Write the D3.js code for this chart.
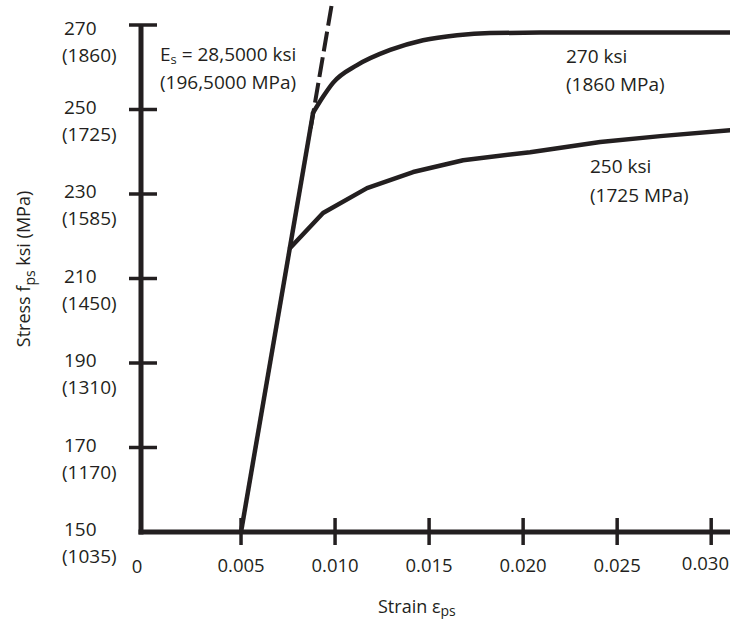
<!DOCTYPE html>
<html>
<head>
<meta charset="utf-8">
<title>stress strain</title>
<script src="https://d3js.org/d3.v7.min.js"></script>
<style>
  body { margin: 0; background: #fff; }
  text { font-family: "Open Sans", sans-serif; fill: #231f20; }
</style>
</head>
<body>
<svg id="mainsvg" width="730" height="619"></svg>
<script>
// ticks
const strainTicks = [0.005, 0.010, 0.015, 0.020, 0.025, 0.030];
const stressTicks = [150, 170, 190, 210, 230, 250, 270];
const stressMPa = ['(1035)', '(1170)', '(1310)', '(1450)', '(1585)', '(1725)', '(1860)'];

// curves: [strain, stress ksi]
const elastic = [[0.005, 150], [0.00883, 249.2]];
const modulusLine = [[0.00981, 274.5], [0.00868, 245]];
const curve270 = [[0.00883, 249.2], [0.00936, 253.0], [0.00989, 256.3], [0.01117, 260.5],
  [0.01293, 264.1], [0.01468, 266.4], [0.01649, 267.6], [0.01824, 268.1], [0.0209, 268.2], [0.031, 268.2]];
const curve250 = [[0.00761, 217.2], [0.00936, 225.5], [0.0117, 231.4], [0.01415, 235.2],
  [0.01681, 238.0], [0.02037, 239.9], [0.0241, 242.3], [0.02729, 243.7], [0.031, 245.1]];

const ink = '#231f20';
const svg = d3.select('#mainsvg');

const x = d3.scaleLinear().domain([0, 0.031]).range([147, 730]);
const y = d3.scaleLinear().domain([150, 270]).range([532, 25]);
const axisX = 141;

// y axis
svg.append('line')
  .attr('x1', axisX).attr('x2', axisX)
  .attr('y1', y(270)).attr('y2', y(150) + 2.5)
  .attr('stroke', ink).attr('stroke-width', 5);

svg.selectAll('.ytick').data(stressTicks.filter(d => d > 150)).join('line')
  .attr('class', 'ytick')
  .attr('x1', axisX - 12).attr('x2', axisX + 16)
  .attr('y1', d => y(d)).attr('y2', d => y(d))
  .attr('stroke', ink).attr('stroke-width', 3.5);

const ylab = svg.selectAll('.ylab').data(stressTicks).join('text')
  .attr('class', 'ylab')
  .attr('font-size', 19);
ylab.append('tspan')
  .attr('x', 64)
  .attr('y', d => y(d) + (d === 270 ? 10 : 4))
  .text(d => d);
ylab.append('tspan')
  .attr('x', 62)
  .attr('y', d => y(d) + (d === 270 ? 37 : 31))
  .text((d, i) => stressMPa[i]);

// x axis
svg.append('line')
  .attr('x1', axisX - 2.5).attr('x2', 730)
  .attr('y1', y(150)).attr('y2', y(150))
  .attr('stroke', ink).attr('stroke-width', 5);

svg.selectAll('.xtick').data(strainTicks).join('line')
  .attr('class', 'xtick')
  .attr('x1', d => x(d)).attr('x2', d => x(d))
  .attr('y1', y(150) - 14).attr('y2', y(150) + 13)
  .attr('stroke', ink).attr('stroke-width', 3.5);

// last label sits against the right edge, as in the source
svg.selectAll('.xlab').data(strainTicks).join('text')
  .attr('class', 'xlab')
  .attr('x', (d, i) => i === strainTicks.length - 1 ? 729 : x(d))
  .attr('y', (d, i) => i === strainTicks.length - 1 ? 570 : 572)
  .attr('text-anchor', (d, i) => i === strainTicks.length - 1 ? 'end' : 'middle')
  .attr('font-size', 18.5)
  .text(d => d.toFixed(3));

svg.append('text')
  .attr('x', x(0) - 10).attr('y', 573)
  .attr('text-anchor', 'middle')
  .attr('font-size', 18.5)
  .text('0');

// axis titles
const xt = svg.append('text').attr('x', 378).attr('y', 613).attr('font-size', 18);
xt.append('tspan').text('Strain ');
xt.append('tspan').text('ε');
xt.append('tspan').attr('dy', 3).attr('font-size', 14).text('ps');

const yt = svg.append('text')
  .attr('transform', 'translate(30,269) rotate(-90)')
  .attr('text-anchor', 'middle')
  .attr('font-size', 18);
yt.append('tspan').text('Stress f');
yt.append('tspan').attr('dy', 5).attr('font-size', 14).text('ps');
yt.append('tspan').attr('dy', -5).text(' ksi (MPa)');

// curves
const line = d3.line().x(d => x(d[0])).y(d => y(d[1]));
const smooth = d3.line().x(d => x(d[0])).y(d => y(d[1])).curve(d3.curveMonotoneX);

svg.append('path').datum(modulusLine)
  .attr('d', line).attr('fill', 'none')
  .attr('stroke', ink).attr('stroke-width', 4)
  .attr('stroke-dasharray', '20,6');

svg.append('path').datum(elastic)
  .attr('d', line).attr('fill', 'none')
  .attr('stroke', ink).attr('stroke-width', 4.5)
  .attr('stroke-linejoin', 'round');

svg.append('path').datum(curve270)
  .attr('d', smooth).attr('fill', 'none')
  .attr('stroke', ink).attr('stroke-width', 4.5)
  .attr('stroke-linecap', 'round');

svg.append('path').datum(curve250)
  .attr('d', line).attr('fill', 'none')
  .attr('stroke', ink).attr('stroke-width', 4.5)
  .attr('stroke-linejoin', 'round').attr('stroke-linecap', 'round');

// annotations
const es = svg.append('text').attr('x', 160).attr('y', 61).attr('font-size', 19);
es.append('tspan').text('E');
es.append('tspan').attr('dy', 3).attr('font-size', 13).text('s');
es.append('tspan').attr('dy', -3).text(' = 28,5000 ksi');
svg.append('text').attr('x', 160).attr('y', 89).attr('font-size', 19).text('(196,5000 MPa)');

svg.append('text').attr('x', 566).attr('y', 63).attr('font-size', 19).text('270 ksi');
svg.append('text').attr('x', 566).attr('y', 91).attr('font-size', 19).text('(1860 MPa)');
svg.append('text').attr('x', 590).attr('y', 173).attr('font-size', 19).text('250 ksi');
svg.append('text').attr('x', 590).attr('y', 202).attr('font-size', 19).text('(1725 MPa)');
</script>
</body>
</html>
